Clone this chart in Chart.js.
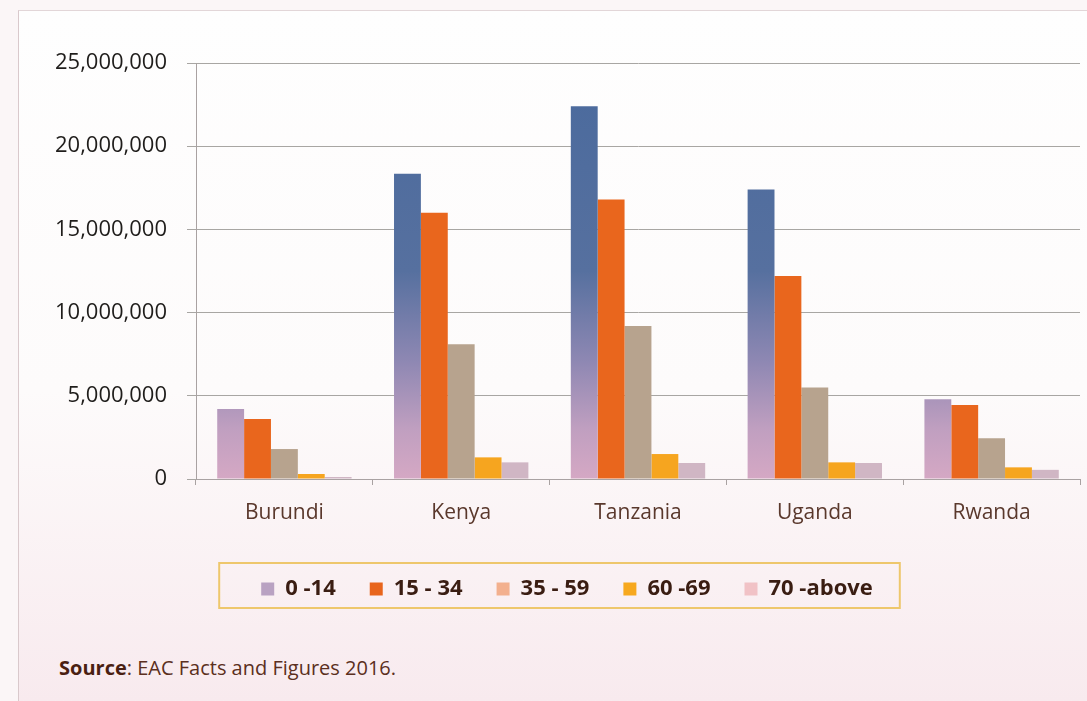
<!DOCTYPE html>
<html>
<head>
<meta charset="utf-8">
<script src="https://cdn.jsdelivr.net/npm/chart.js@4"></script>
<style>
  html, body { margin: 0; padding: 0; }
  body {
    width: 1087px; height: 701px; overflow: hidden; position: relative;
    background: #fbf6f7;
    font-family: "Open Sans", sans-serif;
  }
  #panel {
    position: absolute; left: 18px; top: 10px; right: 0; bottom: 0;
    background: linear-gradient(#fefefe 0%, #fdfbfb 55%, #f8eaee 100%);
    border-left: 1px solid #d9c9cc;
    border-top: 1px solid #e2d6d8;
  }
  #wrap { position: absolute; left: 0; top: 0; width: 1087px; height: 618px; }
  #source {
    position: absolute; left: 59px; top: 654px;
    font-size: 20px; color: #5b2f20;
  }
  #source b { color: #4a1f12; }
</style>
</head>
<body>
<div id="panel"></div>
<div id="wrap"><canvas id="grafico"></canvas></div>
<div id="source"><b>Source</b>: EAC Facts and Figures 2016.</div>

<script>
// dados (população por faixa etária)
const paises = ["Burundi", "Kenya", "Tanzania", "Uganda", "Rwanda"];
const faixas = ["0 -14", "15 - 34", "35 - 59", "60 -69", "70 -above"];

const idade0_14  = [4200000, 18350000, 22400000, 17400000, 4800000];
const idade15_34 = [3600000, 16000000, 16800000, 12200000, 4450000];
const idade35_59 = [1800000, 8100000, 9200000, 5500000, 2450000];
const idade60_69 = [300000, 1300000, 1500000, 1000000, 700000];
const idade70    = [120000, 1000000, 960000, 960000, 550000];

const yTicks = [0, 5000000, 10000000, 15000000, 20000000, 25000000];

const coresBarra = [null, "#e9661d", "#b7a38e", "#f6a51f", "#d0b6c4"];
const coresLegenda = ["#b9a2c2", "#e8651c", "#f3b08e", "#f7a81e", "#f1c2c6"];

// gradiente azul -> lilás para a série 0-14
function gradiente0a14(context) {
    const chart = context.chart;
    const area = chart.chartArea;
    if (!area) return "#7c84b0";
    const g = chart.ctx.createLinearGradient(0, area.top, 0, area.bottom);
    g.addColorStop(0.0, "#4a6a9d");
    g.addColorStop(0.5, "#56709f");
    g.addColorStop(0.72, "#8f88b3");
    g.addColorStop(0.88, "#c09fc0");
    g.addColorStop(1.0, "#d5a8c4");
    return g;
}

// moldura dourada em volta da legenda
const bordaLegenda = {
    id: "bordaLegenda",
    afterDraw(chart) {
        const hb = chart.legend && chart.legend.legendHitBoxes;
        if (!hb || !hb.length) return;
        const esq = Math.min(...hb.map(b => b.left));
        const dir = Math.max(...hb.map(b => b.left + b.width));
        const cy = hb[0].top + hb[0].height / 2;
        const ctx = chart.ctx;
        ctx.save();
        ctx.strokeStyle = "#eec76c";
        ctx.lineWidth = 2;
        ctx.strokeRect(esq - 42, cy - 26, (dir - esq) + 69, 45);
        ctx.restore();
    }
};

const series = [idade0_14, idade15_34, idade35_59, idade60_69, idade70];

const ctx = document.getElementById("grafico").getContext("2d");
new Chart(ctx, {
    type: "bar",
    data: {
        labels: paises,
        datasets: series.map((dados, i) => ({
            label: faixas[i],
            data: dados,
            backgroundColor: i === 0 ? gradiente0a14 : coresBarra[i],
            borderWidth: 0,
            categoryPercentage: 0.76,
            barPercentage: 1.0,
        })),
    },
    options: {
        responsive: true,
        maintainAspectRatio: false,
        animation: false,
        layout: { padding: { left: 54, right: 7, top: 63, bottom: 8 } },
        scales: {
            x: {
                grid: {
                    offset: true,
                    drawOnChartArea: false,
                    drawTicks: true,
                    tickLength: 6,
                    color: "#a9a2a2",
                },
                border: { display: true, color: "#a9a2a2", width: 1 },
                ticks: {
                    color: "#5a382c",
                    font: { family: "Open Sans", size: 21 },
                    padding: 15,
                },
                afterFit(scale) { scale.height = 65; },
            },
            y: {
                min: 0,
                max: 25000000,
                afterBuildTicks(scale) { scale.ticks = yTicks.map(v => ({ value: v })); },
                grid: {
                    color: "#a8a6a3",
                    lineWidth: 1,
                    drawTicks: true,
                    tickLength: 9,
                },
                border: { display: true, color: "#a9a2a2", width: 1 },
                ticks: {
                    color: "#1f1d1b",
                    font: { family: "Open Sans", size: 22 },
                    padding: 20,
                    callback: v => v.toLocaleString("en-US"),
                },
                afterFit(scale) { scale.width = 142; },
            },
        },
        plugins: {
            tooltip: { enabled: false },
            legend: {
                position: "bottom",
                labels: {
                    boxWidth: 13,
                    boxHeight: 13,
                    padding: 34,
                    color: "#3a1d12",
                    font: { family: "Open Sans", size: 22, weight: "bold" },
                    generateLabels(chart) {
                        return chart.data.datasets.map((ds, i) => ({
                            text: ds.label,
                            fillStyle: coresLegenda[i],
                            strokeStyle: coresLegenda[i],
                            lineWidth: 0,
                            fontColor: "#3a1d12",
                            datasetIndex: i,
                            hidden: false,
                        }));
                    },
                },
            },
        },
    },
    plugins: [bordaLegenda],
});
</script>
</body>
</html>
